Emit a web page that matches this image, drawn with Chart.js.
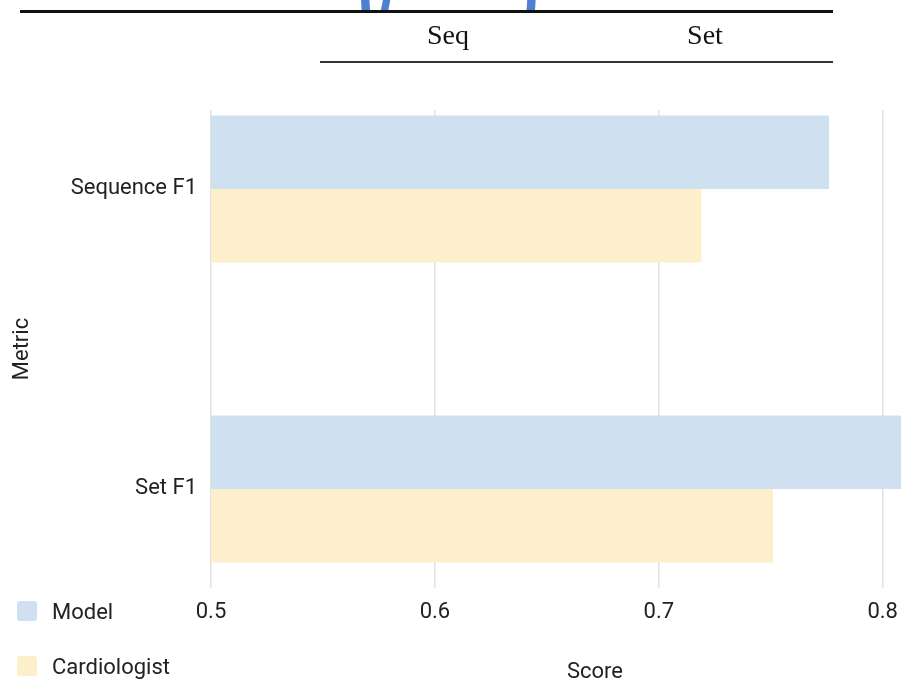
<!DOCTYPE html>
<html>
<head>
<meta charset="utf-8">
<script src="https://cdn.jsdelivr.net/npm/chart.js@4/dist/chart.umd.min.js"></script>
<style>
  html, body { margin: 0; padding: 0; background: #fff; }
  body { width: 901px; height: 682px; overflow: hidden; position: relative; }
  #chart { position: absolute; left: 0; top: 0; }
  .rule { position: absolute; background: #111; }
  .head { position: absolute; top: 21px; font: 28px "Liberation Serif", "Times New Roman", serif; line-height: 1; color: #111; transform: translateX(-50%); white-space: nowrap; }
  .clip { position: absolute; top: 0; height: 13px; overflow: hidden; }
  .clip span { position: absolute; bottom: -14px; left: 0; font: bold 62px "Liberation Sans", sans-serif; color: #4f7fd2; line-height: 1; }
  #legend { position: absolute; left: 17px; top: 0; font: 22px Roboto, sans-serif; color: #222; }
  .item { position: absolute; left: 0; display: flex; align-items: center; white-space: nowrap; }
  .sw { width: 20px; height: 20px; border-radius: 3px; margin-right: 15px; }
</style>
</head>
<body>
<canvas id="chart" width="1000" height="686"></canvas>

<div class="clip" style="left:358px;width:56px;"><span>(/</span></div>
<div class="clip" style="left:518px;width:32px;"><span>)</span></div>
<div class="rule" style="left:20px;top:10px;width:813px;height:3px;"></div>
<div class="head" style="left:448px;">Seq</div>
<div class="head" style="left:705px;">Set</div>
<div class="rule" style="left:320px;top:61px;width:513px;height:1.5px;background:#333;"></div>

<div id="legend"></div>

<script>
// Metrics and scores
const categories = ['Sequence F1', 'Set F1'];
const seriesNames = ['Model', 'Cardiologist'];
const modelScores = [0.776, 0.83];
const cardiologistScores = [0.719, 0.751];
const xTicks = [0.5, 0.6, 0.7, 0.8];

const colors = ['#cfe0f1', '#fdefcc'];

Chart.defaults.font.family = 'Roboto, sans-serif';
Chart.defaults.font.size = 22;
Chart.defaults.color = '#222';

const toPoints = arr => arr.map((v, i) => ({ x: v, y: i }));

const chart = new Chart(document.getElementById('chart'), {
  type: 'bar',
  data: {
    datasets: [
      { label: seriesNames[0], data: toPoints(modelScores), backgroundColor: colors[0] },
      { label: seriesNames[1], data: toPoints(cardiologistScores), backgroundColor: colors[1] }
    ]
  },
  options: {
    indexAxis: 'y',
    responsive: false,
    animation: false,
    devicePixelRatio: 1,
    categoryPercentage: 0.49,
    barPercentage: 1,
    layout: { padding: { top: 110, right: 21, bottom: 0, left: 0 } },
    plugins: { legend: { display: false }, tooltip: { enabled: false } },
    scales: {
      x: {
        type: 'linear',
        min: xTicks[0],
        max: 0.843,
        afterBuildTicks: s => { s.ticks = xTicks.map(v => ({ value: v })); },
        ticks: { padding: 11, color: '#222' },
        grid: { color: '#e2e2e2', lineWidth: 1.5, drawTicks: false },
        border: { display: false },
        title: { display: true, text: 'Score', color: '#222', padding: { top: 0, bottom: 0 } },
        afterFit: s => { s.height = 98; }
      },
      y: {
        type: 'linear',
        reverse: true,
        offset: false,
        min: -0.2633,
        max: 1.33,
        afterBuildTicks: s => { s.ticks = categories.map((c, i) => ({ value: i })); },
        ticks: {
          padding: 14,
          color: '#222',
          callback: v => (categories[v] !== undefined ? categories[v] : '')
        },
        grid: { display: false, offset: false, drawTicks: false, tickLength: 0 },
        border: { display: false },
        title: { display: true, text: 'Metric', color: '#222', padding: { top: 9, bottom: 0 } },
        afterFit: s => { s.width = 211; }
      }
    }
  }
});

// Legend in the lower-left corner, one entry per row
const legend = document.getElementById('legend');
const rowCenters = [611, 666];
chart.data.datasets.forEach((ds, i) => {
  const item = document.createElement('div');
  item.className = 'item';
  item.style.top = (rowCenters[i] - 14) + 'px';
  item.style.height = '28px';
  const sw = document.createElement('div');
  sw.className = 'sw';
  sw.style.background = ds.backgroundColor;
  const label = document.createElement('span');
  label.textContent = ds.label;
  item.appendChild(sw);
  item.appendChild(label);
  legend.appendChild(item);
});
</script>
</body>
</html>
